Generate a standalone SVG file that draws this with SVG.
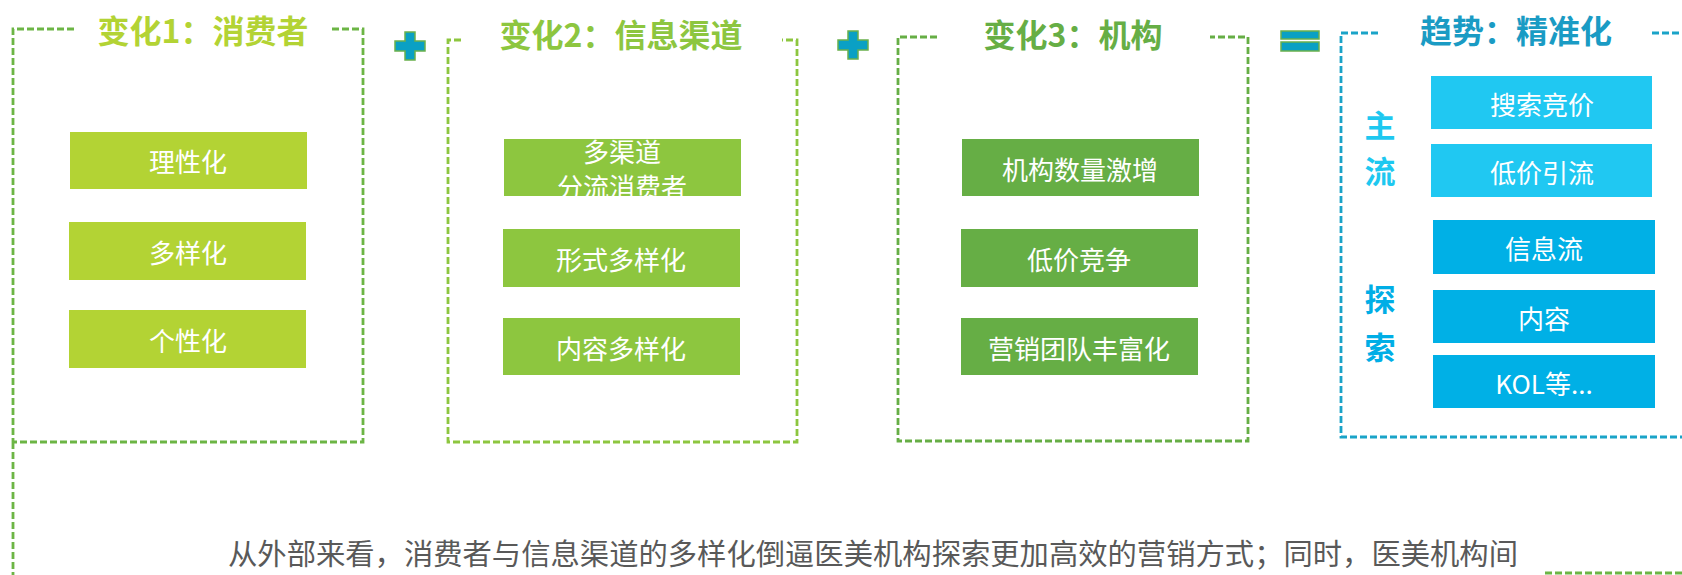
<svg xmlns="http://www.w3.org/2000/svg" width="1682" height="575" viewBox="0 0 1682 575">
<style>
.frame{fill:none;stroke-width:2.8;stroke-dasharray:7 3}
.g1{stroke:#6cb545}
.g2{stroke:#8dc63f}
.g3{stroke:#66ae45}
.b4{stroke:#1aa3c8}
.title{font-family:"Noto Sans CJK SC","Noto Sans",sans-serif;font-weight:bold;font-size:32px;text-anchor:middle;dominant-baseline:central}
.lbl{font-family:"Noto Sans CJK SC","Noto Sans",sans-serif;font-size:26px;fill:#ffffff;text-anchor:middle;dominant-baseline:central}
.side{font-family:"Noto Sans CJK SC","Noto Sans",sans-serif;font-weight:bold;font-size:31px;text-anchor:middle;dominant-baseline:central}
.op{fill:#0aa0c4;stroke:#6ab04c;stroke-width:1.5}
.note{font-family:"Noto Sans CJK SC","Noto Sans",sans-serif;font-size:29px;fill:#595959}
</style>
<rect width="1682" height="575" fill="#ffffff"/>

<g id="box1">
<path class="frame g1" d="M74,29 H13 V442 M332,29 H363 V442 H13"/>
<text class="title" x="203" y="29" fill="#b3d334">变化1：消费者</text>
<g id="b1-r1"><rect x="70" y="132" width="237" height="57" fill="#b3d334"/><text class="lbl" x="188" y="160">理性化</text></g>
<g id="b1-r2"><rect x="69" y="222" width="237" height="58" fill="#b3d334"/><text class="lbl" x="188" y="251">多样化</text></g>
<g id="b1-r3"><rect x="69" y="310" width="237" height="58" fill="#b3d334"/><text class="lbl" x="188" y="339">个性化</text></g>
</g>

<g id="plus1">
<path class="op" d="M405,32 H415 V41 H425 V51 H415 V60 H405 V51 H395 V41 H405 Z"/>
</g>

<g id="box2">
<path class="frame g2" d="M461,40 H448 V442 H797 V40 H782"/>
<text class="title" x="621" y="33" fill="#8dc63f">变化2：信息渠道</text>
<g id="b2-r1"><rect x="504" y="139" width="237" height="57" fill="#8dc63f"/><text class="lbl" x="622" y="150">多渠道</text><text class="lbl" x="622" y="185">分流消费者</text></g>
<g id="b2-r2"><rect x="503" y="229" width="237" height="58" fill="#8dc63f"/><text class="lbl" x="621" y="258">形式多样化</text></g>
<g id="b2-r3"><rect x="503" y="318" width="237" height="57" fill="#8dc63f"/><text class="lbl" x="621" y="347">内容多样化</text></g>
</g>

<g id="plus2">
<path class="op" d="M848,31 H858 V40 H868 V50 H858 V59 H848 V50 H838 V40 H848 Z"/>
</g>

<g id="box3">
<path class="frame g3" d="M937,37 H898 V441 H1248 V37 H1210"/>
<text class="title" x="1073" y="33" fill="#66ae45">变化3：机构</text>
<g id="b3-r1"><rect x="962" y="139" width="237" height="57" fill="#66ae45"/><text class="lbl" x="1080" y="168">机构数量激增</text></g>
<g id="b3-r2"><rect x="961" y="229" width="237" height="58" fill="#66ae45"/><text class="lbl" x="1079" y="258">低价竞争</text></g>
<g id="b3-r3"><rect x="961" y="318" width="237" height="57" fill="#66ae45"/><text class="lbl" x="1079" y="347">营销团队丰富化</text></g>
</g>

<g id="equals">
<rect class="op" x="1281" y="31" width="38" height="8"/>
<rect class="op" x="1281" y="42" width="38" height="9"/>
</g>

<g id="box4">
<path class="frame b4" d="M1378,33 H1341 V437 H1690 M1652,33 H1690"/>
<text class="title" x="1516" y="29" fill="#1a9bc4">趋势：精准化</text>
<text class="side" x="1380" y="123" fill="#1ec8f0">主</text>
<text class="side" x="1380" y="169" fill="#1ec8f0">流</text>
<text class="side" x="1380" y="297" fill="#00aee6">探</text>
<text class="side" x="1380" y="345" fill="#00aee6">索</text>
<g id="b4-r1"><rect x="1431" y="76" width="221" height="53" fill="#20c8f2"/><text class="lbl" x="1542" y="103">搜索竞价</text></g>
<g id="b4-r2"><rect x="1431" y="144" width="221" height="53" fill="#20c8f2"/><text class="lbl" x="1542" y="171">低价引流</text></g>
<g id="b4-r3"><rect x="1433" y="220" width="222" height="54" fill="#00b0e6"/><text class="lbl" x="1544" y="247">信息流</text></g>
<g id="b4-r4"><rect x="1433" y="290" width="222" height="53" fill="#00b0e6"/><text class="lbl" x="1544" y="317">内容</text></g>
<g id="b4-r5"><rect x="1433" y="355" width="222" height="53" fill="#00b0e6"/><text class="lbl" x="1544" y="382">KOL等...</text></g>
</g>

<g id="connectors">
<path class="frame g1" d="M13,442 V575"/>
<path class="frame g1" d="M1545,573 H1682"/>
</g>

<g id="note">
<text class="note" x="228" y="565" textLength="1290" lengthAdjust="spacingAndGlyphs">从外部来看，消费者与信息渠道的多样化倒逼医美机构探索更加高效的营销方式；同时，医美机构间</text>
</g>
</svg>
